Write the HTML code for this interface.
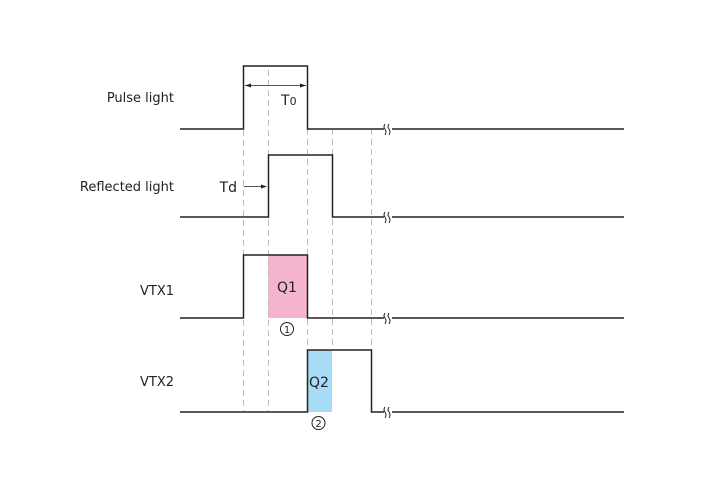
<!DOCTYPE html>
<html><head><style>html,body{margin:0;padding:0;background:#fff}</style></head><body>
<svg width="710" height="473" xmlns="http://www.w3.org/2000/svg" font-family="'DejaVu Sans','Liberation Sans',sans-serif" font-size="13">
<rect x="268" y="255" width="39" height="63" fill="#f4b3cf"/>
<rect x="307" y="350" width="25" height="62" fill="#a8dcf6"/>
<g stroke="#bbb" stroke-width="1" stroke-dasharray="6,4" fill="none">
<line x1="243.5" y1="70" x2="243.5" y2="412"/>
<line x1="268.5" y1="70" x2="268.5" y2="412"/>
<line x1="307.5" y1="129" x2="307.5" y2="412"/>
<line x1="332.5" y1="129" x2="332.5" y2="350"/>
<line x1="371.5" y1="129" x2="371.5" y2="412"/>
</g>
<g stroke="#222" stroke-width="1.5" fill="none">
<polyline points="180,129 243.5,129 243.5,66 307.5,66 307.5,129 624,129"/>
<polyline points="180,217 268.5,217 268.5,155 332.5,155 332.5,217 624,217"/>
<polyline points="180,318 243.5,318 243.5,255 307.5,255 307.5,318 624,318"/>
<polyline points="180,412 307.5,412 307.5,350 371.5,350 371.5,412 624,412"/>
</g>
<g stroke="#fff" stroke-width="5">
<line x1="384" y1="129" x2="392" y2="129"/><line x1="384" y1="217" x2="392" y2="217"/>
<line x1="384" y1="318" x2="392" y2="318"/><line x1="384" y1="412" x2="392" y2="412"/>
</g>
<g stroke="#222" stroke-width="1" fill="none">
<path d="M385,124 q-2,3 0,5 q2,3 0,6 M389,124 q-2,3 0,5 q2,3 0,6" />
<path d="M385,212 q-2,3 0,5 q2,3 0,6 M389,212 q-2,3 0,5 q2,3 0,6" />
<path d="M385,313 q-2,3 0,5 q2,3 0,6 M389,313 q-2,3 0,5 q2,3 0,6" />
<path d="M385,407 q-2,3 0,5 q2,3 0,6 M389,407 q-2,3 0,5 q2,3 0,6" />
<line x1="245" y1="85.5" x2="306" y2="85.5" stroke="#555"/>
<line x1="244" y1="186.5" x2="266" y2="186.5" stroke="#555"/>
</g>
<path d="M245,85.5 l6,-2 v4z M306,85.5 l-6,-2 v4z M267,186.5 l-6,-2 v4z" fill="#222"/>
<g fill="#222" text-anchor="end">
<text x="174" y="102">Pulse light</text>
<text x="174" y="191">Reflected light</text>
<text x="174" y="295">VTX1</text>
<text x="174" y="386">VTX2</text>
</g>
<text x="237" y="192" text-anchor="end" fill="#222" font-size="14">Td</text>
<text x="281" y="105" fill="#222" font-size="14">T<tspan font-size="11">0</tspan></text>
<text x="287" y="292" text-anchor="middle" fill="#222" font-size="14">Q1</text>
<text x="319" y="387" text-anchor="middle" fill="#222" font-size="14">Q2</text>
<circle cx="287" cy="329" r="6.5" fill="none" stroke="#222"/>
<text x="287" y="333" text-anchor="middle" font-size="10" fill="#222">1</text>
<circle cx="318.5" cy="423" r="6.5" fill="none" stroke="#222"/>
<text x="318.5" y="427" text-anchor="middle" font-size="10" fill="#222">2</text>
</svg>
</body></html>
